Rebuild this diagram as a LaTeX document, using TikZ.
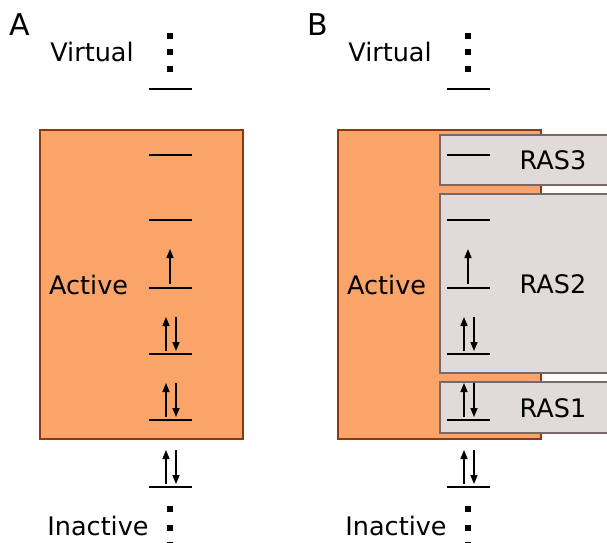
\documentclass[tikz,border=0pt]{standalone}
\usepackage{fontspec}
\setmainfont{DejaVu Sans}
\usetikzlibrary{arrows.meta}
\definecolor{activefill}{HTML}{FAA46A}
\definecolor{activeedge}{HTML}{8A3A0E}
\definecolor{rasfill}{HTML}{E1DADA}
\definecolor{rasedge}{HTML}{7A6868}
\tikzset{
  lbl/.style={font=\fontsize{25.5}{30}\selectfont, inner sep=0pt},
  panellbl/.style={font=\fontsize{30}{34}\selectfont, inner sep=0pt},
  activebox/.style={fill=activefill, draw=activeedge, line width=1.7pt},
  rasbox/.style={fill=rasfill, draw=rasedge, line width=1.6pt},
  level/.style={line width=2.4pt},
  spin/.style={line width=1.5pt, -{Triangle[length=9pt,width=7pt]}},
  dot/.style={fill=black, minimum size=5.5pt, inner sep=0pt, draw=none, rectangle},
}
\begin{document}
\begin{tikzpicture}[x=1pt,y=-1pt]
\useasboundingbox (0,0) rectangle (607,542);
\clip (0,0) rectangle (607,542);
\fill[white] (0,0) rectangle (607,542);

% two panels: A (no offset) and B (shifted right)
\foreach \pn/\dx in {A/0,B/298}{
\begin{scope}[xshift=\dx pt]
  \node[panellbl] (title\pn) at (20,25) {\pn};
  \node[lbl] (virt\pn) at (92,52) {Virtual};
  \node[lbl] (inact\pn) at (98,526) {Inactive};
  \node[activebox, minimum width=203pt, minimum height=309pt, inner sep=0pt] (act\pn) at (141.5,284.5) {};
  \node[lbl, anchor=west] (actlbl\pn) at (49,285) {Active};
  % dots above and below
  \node[dot] (vd1\pn) at (170,36) {};
  \node[dot] (vd2\pn) at (170,52) {};
  \node[dot] (vd3\pn) at (170,69) {};
  \node[dot] (id1\pn) at (170,509) {};
  \node[dot] (id2\pn) at (170,528) {};
  \node[dot] (id3\pn) at (170,545) {};
\end{scope}
}

% restricted active spaces in panel B
\node[rasbox, anchor=north west, minimum width=200pt, minimum height=50pt, inner sep=0pt] (ras3) at (439,134) {};
\node[rasbox, anchor=north west, minimum width=200pt, minimum height=179pt, inner sep=0pt] (ras2) at (439,193) {};
\node[rasbox, anchor=north west, minimum width=200pt, minimum height=51pt, inner sep=0pt] (ras1) at (439,381) {};
\node[lbl] (ras3lbl) at (553,160) {RAS3};
\node[lbl] (ras2lbl) at (553,284) {RAS2};
\node[lbl] (ras1lbl) at (553,408) {RAS1};

% orbital levels and electrons
\foreach \dx in {0,298}{
\begin{scope}[xshift=\dx pt]
  \foreach \y in {89,155,220,288,354,420,487}{
    \coordinate (l\y) at (149,\y);
    \coordinate (r\y) at (192,\y);
    \draw[level] (l\y) -- (r\y);
  }
  % singly occupied
  \coordinate (s1a) at (170,284);
  \coordinate (s1b) at (170,249);
  \draw[spin] (s1a) -- (s1b);
  % doubly occupied
  \foreach \y in {354,420,487}{
    \coordinate (ua) at (166,\y-3);
    \coordinate (ub) at (166,\y-37);
    \coordinate (da) at (176,\y-37);
    \coordinate (db) at (176,\y-3);
    \draw[spin] (ua) -- (ub);
    \draw[spin] (da) -- (db);
  }
\end{scope}
}
\end{tikzpicture}
\end{document}
